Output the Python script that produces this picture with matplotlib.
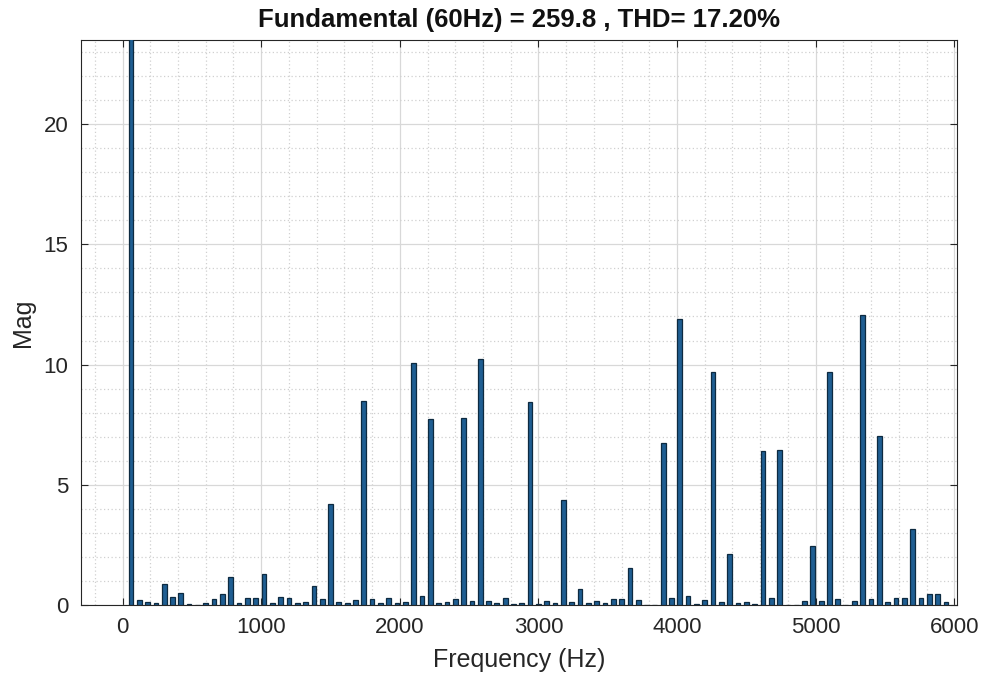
import numpy as np
import matplotlib
matplotlib.use("Agg")
import matplotlib.pyplot as plt
from matplotlib.ticker import MultipleLocator

# Harmonic order (fundamental = 60 Hz)
fundamental_hz = 60
harmonic_order = list(range(1, 100))
magnitudes = [
    259.8, 0.20, 0.13, 0.09, 0.89, 0.33, 0.48, 0.04, 0.02, 0.10,
    0.26, 0.47, 1.15, 0.07, 0.29, 0.29, 1.27, 0.10, 0.34, 0.28,
    0.09, 0.11, 0.80, 0.25, 4.20, 0.14, 0.07, 0.19, 8.50, 0.26,
    0.07, 0.28, 0.08, 0.14, 10.07, 0.38, 7.74, 0.09, 0.14, 0.23,
    7.79, 0.15, 10.24, 0.15, 0.10, 0.27, 0.03, 0.08, 8.44, 0.04,
    0.15, 0.09, 4.36, 0.14, 0.65, 0.10, 0.16, 0.10, 0.23, 0.24,
    1.54, 0.19, 0.02, 0.02, 6.74, 0.29, 11.88, 0.38, 0.06, 0.20,
    9.71, 0.14, 2.11, 0.08, 0.14, 0.05, 6.39, 0.28, 6.45, 0.02,
    0.02, 0.18, 2.45, 0.16, 9.71, 0.26, 0.02, 0.18, 12.07, 0.23,
    7.03, 0.13, 0.29, 0.29, 3.17, 0.27, 0.46, 0.46, 0.13,
]
frequencies = [fundamental_hz * n for n in harmonic_order]

x_ticks = [0, 1000, 2000, 3000, 4000, 5000, 6000]
y_ticks = [0, 5, 10, 15, 20]
title_text = "Fundamental (60Hz) = 259.8 , THD= 17.20%"

plt.rcParams['font.family'] = ['Liberation Sans', 'DejaVu Sans']

fig = plt.figure(figsize=(9.87, 6.74), dpi=100)
ax = fig.add_axes([0.0821, 0.1024, 0.8875, 0.8383])

ax.bar(frequencies, magnitudes, width=34, color='#1f5e92',
       edgecolor='#0d2a40', linewidth=0.9, zorder=3)

ax.set_xlim(-300, 6020)
ax.set_ylim(0, 23.5)
ax.set_xticks(x_ticks)
ax.set_yticks(y_ticks)
ax.xaxis.set_minor_locator(MultipleLocator(200))
ax.yaxis.set_minor_locator(MultipleLocator(1))

ax.grid(which='major', color='#d8d8d8', linewidth=0.9, linestyle='-', zorder=0)
ax.grid(which='minor', color='#d0d0d0', linewidth=0.9, linestyle=(0, (1, 2)), zorder=0)
ax.set_axisbelow(True)

ax.tick_params(which='major', direction='in', length=5, width=0.8,
               top=True, right=True, labelsize=16, colors='#262626', pad=9)
ax.tick_params(which='minor', length=0)
for s in ax.spines.values():
    s.set_color('#262626')
    s.set_linewidth(0.8)

ax.set_xlabel('Frequency (Hz)', fontsize=18, color='#262626', labelpad=7)
ax.set_ylabel('Mag', fontsize=18, color='#262626', labelpad=6)
ax.set_title(title_text, fontsize=18.5, fontweight='bold', color='#111111', pad=9)

fig.savefig('out.png', dpi=100, facecolor='white')
